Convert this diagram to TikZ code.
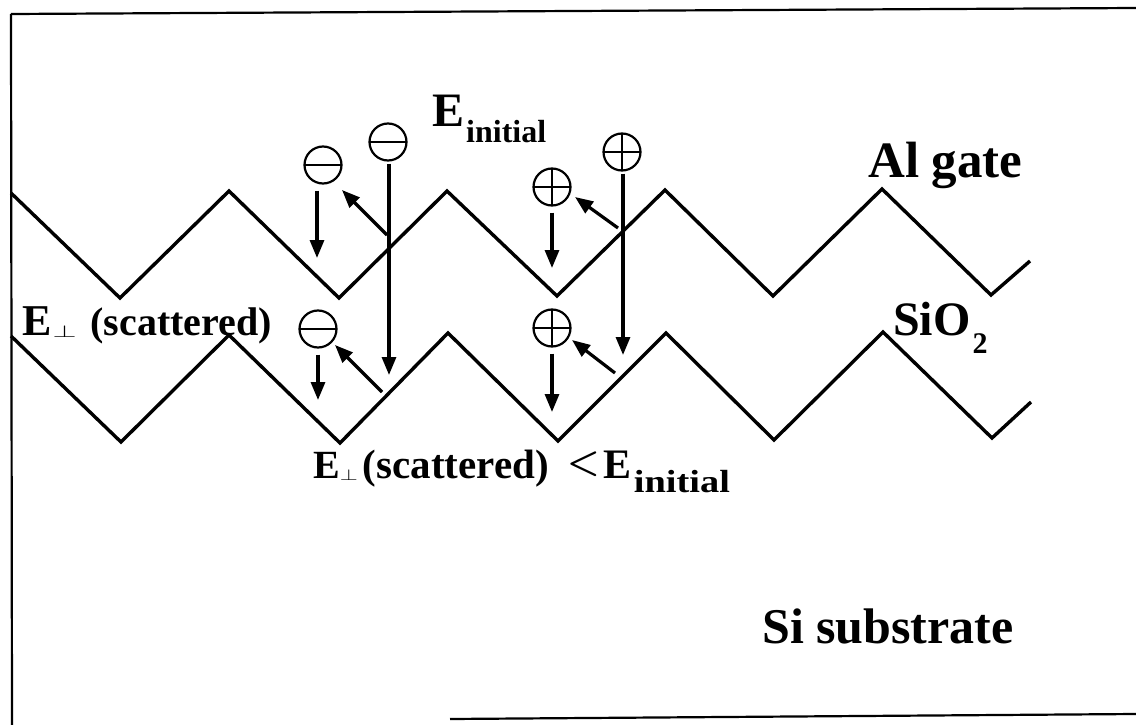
\documentclass[tikz,border=0pt]{standalone}
\usepackage{fontspec}
\setmainfont{Liberation Serif}
\usetikzlibrary{arrows.meta}
\newcommand\myfs[1]{\fontsize{#1}{#1}\selectfont}
\newcommand\myperp[2]{\raisebox{-2pt}{\resizebox{#1}{#2}{$\perp$}}}
\newcommand\mylt{\raisebox{5pt}{\scalebox{3.7}{\myfs{10}\boldmath$<$}}}
\begin{document}
\begin{tikzpicture}[x=1pt,y=-1pt,
  zig/.style={line width=3.4pt, line join=miter},
  frame/.style={line width=2.2pt},
  charge/.style={circle, draw, line width=2.2pt, minimum size=37pt, inner sep=0pt},
  minus/.style={charge, path picture={\draw[line width=2pt] (path picture bounding box.west) -- (path picture bounding box.east);}},
  plus/.style={charge, path picture={\draw[line width=2pt] (path picture bounding box.west) -- (path picture bounding box.east) (path picture bounding box.north) -- (path picture bounding box.south);}},
  arr/.style={line width=3.2pt, -{Triangle[length=18pt,width=14pt]}},
  lbl/.style={inner sep=0pt, anchor=base west, font=\bfseries}
]
\useasboundingbox (0,0) rectangle (1136,725);
% frame
\draw[frame] (11,14) -- (1136,8);
\draw[frame] (11,14) -- (12,725);
\draw[frame] (450,719) -- (1136,714);
% zigzag interfaces
\draw[zig] (11,193) -- (120,298) -- (229,191) -- (339,298) -- (447,191) -- (557,296) -- (665,190) -- (773,296) -- (882,189) -- (991,295) -- (1030,261);
\draw[zig] (11,336) -- (121,442) -- (229,335) -- (340,443) -- (448,333) -- (558,441) -- (666,333) -- (774,440) -- (883,332) -- (992,438) -- (1031,402);
% charges
\node[minus] (m1) at (323,165) {};
\node[minus] (m2) at (388,142) {};
\node[plus] (p1) at (552,187) {};
\node[plus] (p2) at (622,152) {};
\node[minus] (m3) at (318,329) {};
\node[plus] (p3) at (552,328) {};
% arrow end points
\coordinate (m1end) at (317,258);
\coordinate (m2end) at (389,375);
\coordinate (m2s) at (387,235);
\coordinate (m2d) at (342,190);
\coordinate (p1end) at (552,268);
\coordinate (p2end) at (623,355);
\coordinate (p2s) at (618,228);
\coordinate (p2d) at (575,197);
\coordinate (m3end) at (318,400);
\coordinate (m3s) at (382,392);
\coordinate (m3d) at (335,345);
\coordinate (p3end) at (552,412);
\coordinate (p3s) at (615,373);
\coordinate (p3d) at (572,340);
% arrows
\draw[arr, shorten <=6pt] (m1.south -| m1end) -- (m1end);
\draw[arr, shorten <=2pt] (m2.south -| m2end) -- (m2end);
\draw[arr] (m2s) -- (m2d);
\draw[arr, shorten <=6pt] (p1.south -| p1end) -- (p1end);
\draw[arr, shorten <=2pt] (p2.south -| p2end) -- (p2end);
\draw[arr] (p2s) -- (p2d);
\draw[arr, shorten <=6pt] (m3.south -| m3end) -- (m3end);
\draw[arr] (m3s) -- (m3d);
\draw[arr, shorten <=6pt] (p3.south -| p3end) -- (p3end);
\draw[arr] (p3s) -- (p3d);
% labels
\node[lbl] (alg) at (868,177) {\myfs{51}Al gate};
\node[lbl] (sio) at (893,335) {\myfs{48}SiO\hspace{2pt}\raisebox{-18pt}{\myfs{30}2}};
\node[lbl] (ein) at (432,126) {\myfs{48}E\hspace{2pt}\raisebox{-17pt}{\myfs{32}initial}};
\node[lbl] (esc) at (22,335) {\myfs{44}E\hspace{1pt}\myperp{24pt}{12pt}\hspace{14pt}\myfs{40}(scattered)};
\node[lbl] (cmp) at (313,478) {\myfs{40}E\myperp{18pt}{11pt}\hspace{5pt}\myfs{41}(scattered)\hspace{18pt}\mylt\hspace{4pt}\myfs{42}E\hspace{2pt}\raisebox{-14pt}{\myfs{32}\scalebox{1.2}[1]{initial}}};
\node[lbl] (sub) at (762,643) {\myfs{50}Si substrate};
\end{tikzpicture}
\end{document}
